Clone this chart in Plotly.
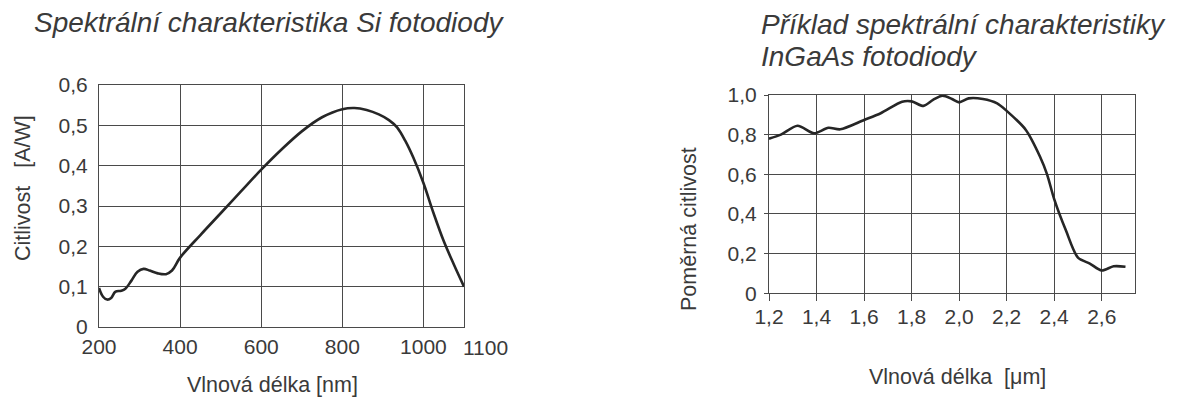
import plotly.graph_objects as go

W, H = 1180, 399

# ---- data: Si photodiode (wavelength nm, responsivity A/W)
si_wl = [200, 210, 220, 230, 240, 255, 265, 280, 295, 310, 325, 345, 365, 380, 400,
         450, 500, 550, 600, 650, 700, 750, 800, 830, 860, 890, 915, 935, 955, 975,
         1000, 1025, 1050, 1075, 1100]
si_resp = [0.097, 0.075, 0.068, 0.072, 0.087, 0.090, 0.095, 0.115, 0.137, 0.144, 0.140,
           0.133, 0.131, 0.140, 0.172, 0.228, 0.282, 0.336, 0.390, 0.440, 0.485, 0.520,
           0.540, 0.543, 0.538, 0.527, 0.513, 0.495, 0.462, 0.420, 0.357, 0.282, 0.213,
           0.155, 0.100]

# ---- data: InGaAs photodiode (wavelength um, relative responsivity)
ig_wl = [1.20, 1.25, 1.32, 1.39, 1.45, 1.50, 1.60, 1.67, 1.76, 1.80, 1.85, 1.89, 1.93,
         1.97, 2.00, 2.04, 2.10, 2.16, 2.20, 2.28, 2.34, 2.37, 2.40, 2.45, 2.50, 2.55,
         2.60, 2.65, 2.70]
ig_resp = [0.78, 0.80, 0.845, 0.807, 0.835, 0.827, 0.874, 0.908, 0.966, 0.968, 0.945,
           0.975, 0.997, 0.98, 0.963, 0.983, 0.98, 0.958, 0.92, 0.825, 0.69, 0.60,
           0.475, 0.315, 0.18, 0.15, 0.115, 0.136, 0.134]

si_xticks = [200, 400, 600, 800, 1000, 1100]
si_xtext = ["200", "400", "600", "800", "1000", "1100"]
si_yticks = [0, 0.1, 0.2, 0.3, 0.4, 0.5, 0.6]
si_ytext = ["0", "0,1", "0,2", "0,3", "0,4", "0,5", "0,6"]
ig_xticks = [1.2, 1.4, 1.6, 1.8, 2.0, 2.2, 2.4, 2.6]
ig_xtext = ["1,2", "1,4", "1,6", "1,8", "2,0", "2,2", "2,4", "2,6"]
ig_yticks = [0, 0.2, 0.4, 0.6, 0.8, 1.0]
ig_ytext = ["0", "0,2", "0,4", "0,6", "0,8", "1,0"]

FONT = "Liberation Sans, Arial, sans-serif"
TXT = "#3a3a3a"
GRID = "#4a4a4a"
LINE = "#262626"
TICK_SIZE = 21

def px_x(p):
    return p / W

def px_y(p):
    return 1 - p / H

fig = go.Figure()
fig.add_trace(go.Scatter(x=si_wl, y=si_resp, mode="lines", xaxis="x", yaxis="y",
                         line=dict(color=LINE, width=2.6, shape="spline", smoothing=1.0),
                         showlegend=False, hoverinfo="skip"))
fig.add_trace(go.Scatter(x=ig_wl, y=ig_resp, mode="lines", xaxis="x2", yaxis="y2",
                         line=dict(color=LINE, width=2.6, shape="spline", smoothing=0.8),
                         showlegend=False, hoverinfo="skip"))

axis_common = dict(showline=True, mirror=True, linecolor=GRID, linewidth=1.2,
                   showgrid=True, gridcolor=GRID, gridwidth=1, zeroline=False,
                   automargin=False, tickangle=0,
                   tickfont=dict(family=FONT, size=TICK_SIZE, color=TXT), fixedrange=True)

# the last (1100) label of the Si axis sits to the right of its gridline in the
# reference, so the axis shows the first five and the sixth is placed at x=1100
fig.update_layout(
    template="none",
    width=W, height=H,
    margin=dict(l=0, r=0, t=0, b=0, autoexpand=False),
    paper_bgcolor="white", plot_bgcolor="white",
    xaxis=dict(domain=[px_x(99), px_x(464)], range=[200, 1100], anchor="y",
               tickmode="array", tickvals=si_xticks[:-1], ticktext=si_xtext[:-1],
               ticks="", ticklabelstandoff=1, **axis_common),
    yaxis=dict(domain=[px_y(327), px_y(85)], range=[0, 0.6], anchor="x",
               tickmode="array", tickvals=si_yticks, ticktext=si_ytext,
               ticks="", ticklabelstandoff=6, **axis_common),
    xaxis2=dict(domain=[px_x(769), px_x(1135)], range=[1.2, 2.74], anchor="y2",
                tickmode="array", tickvals=ig_xticks, ticktext=ig_xtext,
                ticks="outside", ticklen=7, tickcolor=GRID, ticklabelstandoff=-3,
                **axis_common),
    yaxis2=dict(domain=[px_y(293.3), px_y(95)], range=[0, 1.0], anchor="x2",
                tickmode="array", tickvals=ig_yticks, ticktext=ig_ytext,
                ticks="outside", ticklen=4, tickcolor=GRID, ticklabelstandoff=3,
                **axis_common),
)

title_font = dict(family=FONT, size=28, color=TXT, style="italic")
label_font = dict(family=FONT, size=21.5, color=TXT)

annotations = [
    dict(text="Spektrální charakteristika Si fotodiody", x=px_x(32), y=px_y(22),
         xanchor="left", yanchor="middle", font=title_font),
    dict(text="Příklad spektrální charakteristiky", x=px_x(759),
         y=px_y(24), xanchor="left", yanchor="middle", align="left", font=title_font),
    dict(text="InGaAs fotodiody", x=px_x(759),
         y=px_y(56), xanchor="left", yanchor="middle", align="left", font=title_font),
    dict(text="Vlnová délka [nm]", x=px_x(272), y=px_y(385), xanchor="center",
         yanchor="middle", font=label_font),
    dict(text="Vlnová délka\u00a0\u00a0[μm]", x=px_x(957), y=px_y(377), xanchor="center",
         yanchor="middle", font=label_font),
    dict(text="Citlivost\u00a0\u00a0\u00a0[A/W]", x=px_x(23), y=px_y(188), xanchor="center",
         yanchor="middle", textangle=-90, font=label_font),
    dict(text="Poměrná citlivost", x=px_x(689), y=px_y(229), xanchor="center",
         yanchor="middle", textangle=-90, font=label_font),
]
for a in annotations:
    a.update(xref="paper", yref="paper")
annotations.append(dict(text=si_xtext[-1], x=si_xticks[-1], xref="x", y=px_y(347),
                        yref="paper", xanchor="left", yanchor="middle", xshift=-3,
                        font=dict(family=FONT, size=TICK_SIZE, color=TXT)))
for a in annotations:
    a.update(showarrow=False)
fig.update_layout(annotations=annotations)

fig.write_html("out.html", config={"displayModeBar": False})
